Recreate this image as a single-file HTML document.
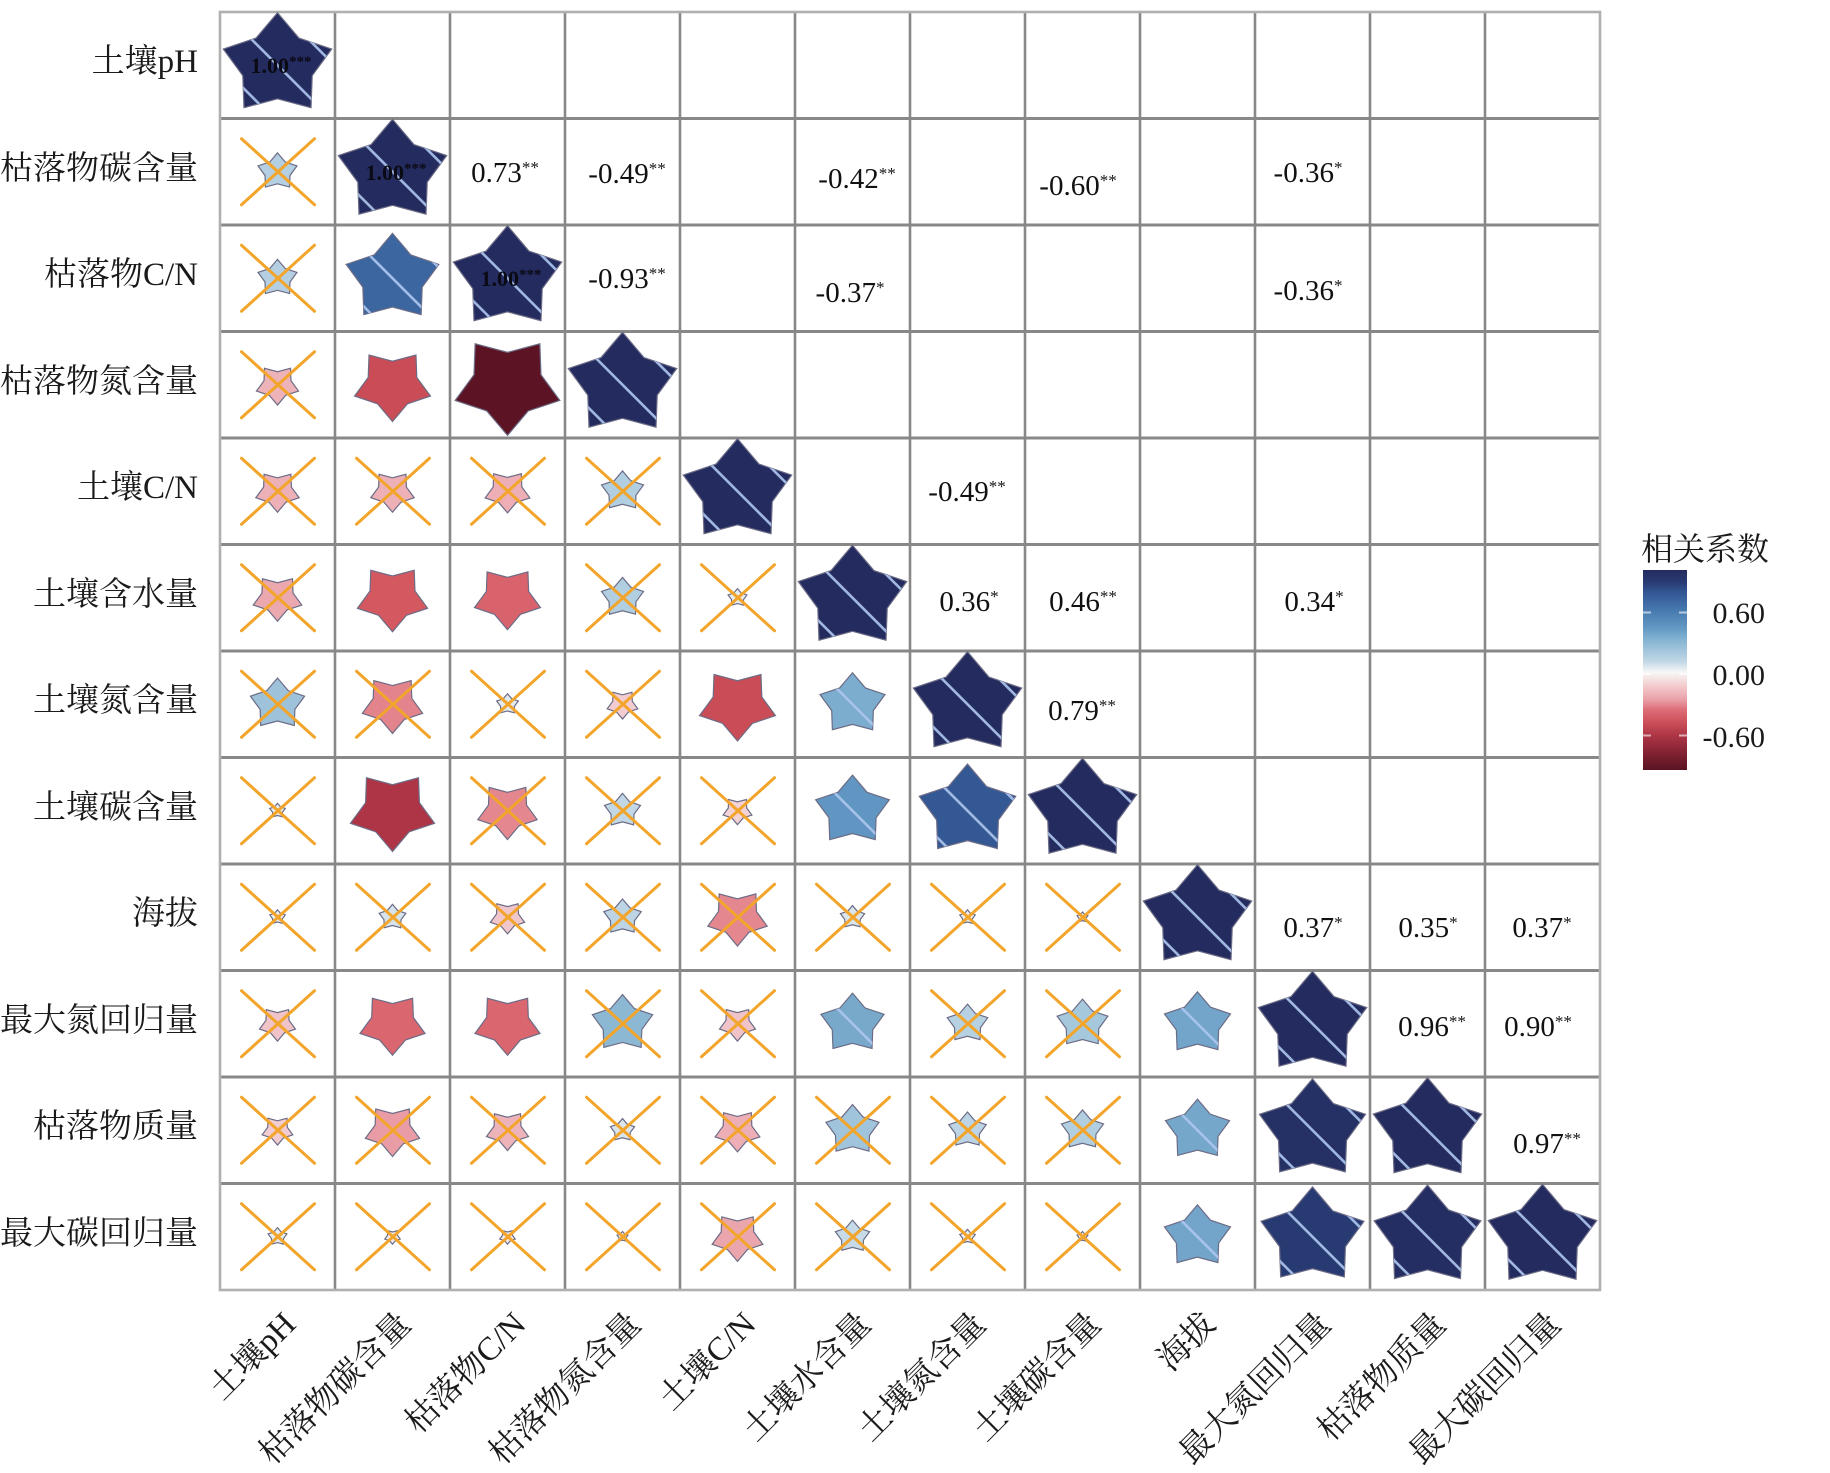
<!DOCTYPE html>
<html><head><meta charset="utf-8"><style>
html,body{margin:0;padding:0;background:#fff;}
svg{display:block;}
</style></head><body>
<svg width="1830" height="1473" viewBox="0 0 1830 1473" xmlns="http://www.w3.org/2000/svg" xmlns:xlink="http://www.w3.org/1999/xlink" font-family="'Liberation Serif','Noto Serif CJK SC',serif">
<defs>
<path id="st" d="M0,-1 L0.376,-0.518 L0.951,-0.309 L0.609,0.198 L0.588,0.809 L0,0.64 L-0.588,0.809 L-0.609,0.198 L-0.951,-0.309 L-0.376,-0.518 Z" stroke="#6c6c86" stroke-width="1.2" vector-effect="non-scaling-stroke"/>
<g id="xx" stroke="#f2a52a" stroke-width="3" stroke-linecap="round"><line x1="-36" y1="-33" x2="37" y2="33"/><line x1="37" y1="-33" x2="-36" y2="33"/></g>
<g id="sp" stroke="#aec6ee" stroke-width="2.6" stroke-opacity="0.9"><line x1="-60" y1="-60" x2="60" y2="60"/><line x1="-31.5" y1="-88.5" x2="88.5" y2="31.5"/><line x1="-88.5" y1="-31.5" x2="31.5" y2="88.5"/></g>
<clipPath id="d1"><use href="#st" transform="translate(277.5,65.25) scale(57,52.5)"/></clipPath>
<clipPath id="d2"><use href="#st" transform="translate(392.5,171.75) scale(57,52.5)"/></clipPath>
<clipPath id="d3"><use href="#st" transform="translate(507.5,278.25) scale(57,52.5)"/></clipPath>
<clipPath id="d4"><use href="#st" transform="translate(622.5,384.75) scale(57,52.5)"/></clipPath>
<clipPath id="d5"><use href="#st" transform="translate(737.5,491.25) scale(57,52.5)"/></clipPath>
<clipPath id="d6"><use href="#st" transform="translate(852.5,597.75) scale(57,52.5)"/></clipPath>
<clipPath id="d7"><use href="#st" transform="translate(967.5,704.25) scale(57,52.5)"/></clipPath>
<clipPath id="d8"><use href="#st" transform="translate(1082.5,810.75) scale(57,52.5)"/></clipPath>
<clipPath id="d9"><use href="#st" transform="translate(1197.5,917.25) scale(57,52.5)"/></clipPath>
<clipPath id="d10"><use href="#st" transform="translate(1312.5,1023.75) scale(57,52.5)"/></clipPath>
<clipPath id="d11"><use href="#st" transform="translate(1427.5,1130.25) scale(57,52.5)"/></clipPath>
<clipPath id="d12"><use href="#st" transform="translate(1542.5,1236.75) scale(57,52.5)"/></clipPath>
<clipPath id="p1"><use href="#st" transform="translate(392.5,278.25) scale(48.7,44.9)"/></clipPath>
<clipPath id="p2"><use href="#st" transform="translate(852.5,704.25) scale(34.2,31.5)"/></clipPath>
<clipPath id="p3"><use href="#st" transform="translate(852.5,810.75) scale(38.7,35.6)"/></clipPath>
<clipPath id="p4"><use href="#st" transform="translate(967.5,810.75) scale(50.7,46.7)"/></clipPath>
<clipPath id="p5"><use href="#st" transform="translate(852.5,1023.75) scale(33.2,30.6)"/></clipPath>
<clipPath id="p6"><use href="#st" transform="translate(1197.5,1023.75) scale(34.7,31.9)"/></clipPath>
<clipPath id="p7"><use href="#st" transform="translate(1197.5,1130.25) scale(33.7,31.1)"/></clipPath>
<clipPath id="p8"><use href="#st" transform="translate(1312.5,1130.25) scale(55.8,51.4)"/></clipPath>
<clipPath id="p9"><use href="#st" transform="translate(1197.5,1236.75) scale(34.7,31.9)"/></clipPath>
<clipPath id="p10"><use href="#st" transform="translate(1312.5,1236.75) scale(54.1,49.8)"/></clipPath>
<clipPath id="p11"><use href="#st" transform="translate(1427.5,1236.75) scale(56.1,51.7)"/></clipPath>
<linearGradient id="cb" x1="0" y1="0" x2="0" y2="1">
<stop offset="0" stop-color="#242b5f"/>
<stop offset="0.059" stop-color="#283a72"/>
<stop offset="0.11" stop-color="#325592"/>
<stop offset="0.161" stop-color="#3d6aa4"/>
<stop offset="0.2125" stop-color="#4a7db2"/>
<stop offset="0.29" stop-color="#6298c2"/>
<stop offset="0.34" stop-color="#7fb0d0"/>
<stop offset="0.392" stop-color="#9dc2da"/>
<stop offset="0.4585" stop-color="#c2d8e6"/>
<stop offset="0.51" stop-color="#f7f7f7"/>
<stop offset="0.53" stop-color="#f6ecec"/>
<stop offset="0.5815" stop-color="#f3c9cc"/>
<stop offset="0.648" stop-color="#eaa0a8"/>
<stop offset="0.699" stop-color="#dc6d77"/>
<stop offset="0.75" stop-color="#d0545e"/>
<stop offset="0.8275" stop-color="#ad3545"/>
<stop offset="0.93" stop-color="#7a1f2f"/>
<stop offset="1" stop-color="#5a1424"/>
</linearGradient>
</defs>

<rect x="0" y="0" width="1830" height="1473" fill="#fff"/>

<!-- grid -->
<g stroke="#888888" stroke-width="2.6">
<line x1="335" y1="12" x2="335" y2="1290"/><line x1="450" y1="12" x2="450" y2="1290"/><line x1="565" y1="12" x2="565" y2="1290"/><line x1="680" y1="12" x2="680" y2="1290"/><line x1="795" y1="12" x2="795" y2="1290"/><line x1="910" y1="12" x2="910" y2="1290"/><line x1="1025" y1="12" x2="1025" y2="1290"/><line x1="1140" y1="12" x2="1140" y2="1290"/><line x1="1255" y1="12" x2="1255" y2="1290"/><line x1="1370" y1="12" x2="1370" y2="1290"/><line x1="1485" y1="12" x2="1485" y2="1290"/>
</g>
<g stroke="#888888" stroke-width="3">
<line x1="220" y1="118.5" x2="1600" y2="118.5"/><line x1="220" y1="225" x2="1600" y2="225"/><line x1="220" y1="331.5" x2="1600" y2="331.5"/><line x1="220" y1="438" x2="1600" y2="438"/><line x1="220" y1="544.5" x2="1600" y2="544.5"/><line x1="220" y1="651" x2="1600" y2="651"/><line x1="220" y1="757.5" x2="1600" y2="757.5"/><line x1="220" y1="864" x2="1600" y2="864"/><line x1="220" y1="970.5" x2="1600" y2="970.5"/><line x1="220" y1="1077" x2="1600" y2="1077"/><line x1="220" y1="1183.5" x2="1600" y2="1183.5"/>
</g>
<rect x="220" y="12" width="1380" height="1278" fill="none" stroke="#b0b0b0" stroke-width="2.6"/>

<!-- diagonal stars -->
<g fill="#242b5f">
<use href="#st" transform="translate(277.5,65.25) scale(57,52.5)"/>
<use href="#st" transform="translate(392.5,171.75) scale(57,52.5)"/>
<use href="#st" transform="translate(507.5,278.25) scale(57,52.5)"/>
<use href="#st" transform="translate(622.5,384.75) scale(57,52.5)"/>
<use href="#st" transform="translate(737.5,491.25) scale(57,52.5)"/>
<use href="#st" transform="translate(852.5,597.75) scale(57,52.5)"/>
<use href="#st" transform="translate(967.5,704.25) scale(57,52.5)"/>
<use href="#st" transform="translate(1082.5,810.75) scale(57,52.5)"/>
<use href="#st" transform="translate(1197.5,917.25) scale(57,52.5)"/>
<use href="#st" transform="translate(1312.5,1023.75) scale(57,52.5)"/>
<use href="#st" transform="translate(1427.5,1130.25) scale(57,52.5)"/>
<use href="#st" transform="translate(1542.5,1236.75) scale(57,52.5)"/>
</g>

<!-- significant stars -->
<use href="#st" transform="translate(392.5,278.25) scale(48.7,44.9)" fill="#3b66a0"/>
<use href="#st" transform="translate(392.5,384.75) scale(39.9,-36.75)" fill="#c94c57"/>
<use href="#st" transform="translate(507.5,384.75) scale(55,-50.6)" fill="#5c1424"/>
<use href="#st" transform="translate(392.5,597.75) scale(36.9,-34)" fill="#d4585f"/>
<use href="#st" transform="translate(507.5,597.75) scale(34.7,-31.9)" fill="#d8636c"/>
<use href="#st" transform="translate(737.5,704.25) scale(39.9,-36.75)" fill="#c94c57"/>
<use href="#st" transform="translate(852.5,704.25) scale(34.2,31.5)" fill="#7cadce"/>
<use href="#st" transform="translate(392.5,810.75) scale(44.2,-40.7)" fill="#ad3545"/>
<use href="#st" transform="translate(852.5,810.75) scale(38.7,35.6)" fill="#6096c1"/>
<use href="#st" transform="translate(967.5,810.75) scale(50.7,46.7)" fill="#335893"/>
<use href="#st" transform="translate(392.5,1023.75) scale(34.2,-31.5)" fill="#da6670"/>
<use href="#st" transform="translate(507.5,1023.75) scale(34.2,-31.5)" fill="#da6670"/>
<use href="#st" transform="translate(852.5,1023.75) scale(33.2,30.6)" fill="#78a9cb"/>
<use href="#st" transform="translate(1197.5,1023.75) scale(34.7,31.9)" fill="#72a5c9"/>
<use href="#st" transform="translate(1197.5,1130.25) scale(33.7,31.1)" fill="#74a7ca"/>
<use href="#st" transform="translate(1312.5,1130.25) scale(55.8,51.4)" fill="#253064"/>
<use href="#st" transform="translate(1197.5,1236.75) scale(34.7,31.9)" fill="#72a5c9"/>
<use href="#st" transform="translate(1312.5,1236.75) scale(54.1,49.8)" fill="#283a72"/>
<use href="#st" transform="translate(1427.5,1236.75) scale(56.1,51.7)" fill="#252e62"/>

<!-- stripes -->
<g clip-path="url(#d1)"><use href="#sp" x="277.5" y="65.25"/></g>
<g clip-path="url(#d2)"><use href="#sp" x="392.5" y="171.75"/></g>
<g clip-path="url(#d3)"><use href="#sp" x="507.5" y="278.25"/></g>
<g clip-path="url(#d4)"><use href="#sp" x="622.5" y="384.75"/></g>
<g clip-path="url(#d5)"><use href="#sp" x="737.5" y="491.25"/></g>
<g clip-path="url(#d6)"><use href="#sp" x="852.5" y="597.75"/></g>
<g clip-path="url(#d7)"><use href="#sp" x="967.5" y="704.25"/></g>
<g clip-path="url(#d8)"><use href="#sp" x="1082.5" y="810.75"/></g>
<g clip-path="url(#d9)"><use href="#sp" x="1197.5" y="917.25"/></g>
<g clip-path="url(#d10)"><use href="#sp" x="1312.5" y="1023.75"/></g>
<g clip-path="url(#d11)"><use href="#sp" x="1427.5" y="1130.25"/></g>
<g clip-path="url(#d12)"><use href="#sp" x="1542.5" y="1236.75"/></g>
<g clip-path="url(#p1)"><use href="#sp" x="392.5" y="278.25"/></g>
<g clip-path="url(#p2)"><use href="#sp" x="852.5" y="704.25"/></g>
<g clip-path="url(#p3)"><use href="#sp" x="852.5" y="810.75"/></g>
<g clip-path="url(#p4)"><use href="#sp" x="967.5" y="810.75"/></g>
<g clip-path="url(#p5)"><use href="#sp" x="852.5" y="1023.75"/></g>
<g clip-path="url(#p6)"><use href="#sp" x="1197.5" y="1023.75"/></g>
<g clip-path="url(#p7)"><use href="#sp" x="1197.5" y="1130.25"/></g>
<g clip-path="url(#p8)"><use href="#sp" x="1312.5" y="1130.25"/></g>
<g clip-path="url(#p9)"><use href="#sp" x="1197.5" y="1236.75"/></g>
<g clip-path="url(#p10)"><use href="#sp" x="1312.5" y="1236.75"/></g>
<g clip-path="url(#p11)"><use href="#sp" x="1427.5" y="1236.75"/></g>

<!-- non-significant stars -->
<use href="#st" transform="translate(277.5,171.75) scale(20.5,18.9)" fill="#b4cfe1"/>
<use href="#st" transform="translate(277.5,278.25) scale(20.5,18.9)" fill="#b4cfe1"/>
<use href="#st" transform="translate(277.5,384.75) scale(22.1,-20.3)" fill="#eeb3b9"/>
<use href="#st" transform="translate(277.5,491.25) scale(22.8,-21)" fill="#edb0b7"/>
<use href="#st" transform="translate(392.5,491.25) scale(22.8,-21)" fill="#edb0b7"/>
<use href="#st" transform="translate(507.5,491.25) scale(23.5,-21.6)" fill="#edaeb5"/>
<use href="#st" transform="translate(622.5,491.25) scale(22.1,20.3)" fill="#b2cee1"/>
<use href="#st" transform="translate(277.5,597.75) scale(25.5,-23.5)" fill="#eba8af"/>
<use href="#st" transform="translate(622.5,597.75) scale(22.1,20.3)" fill="#b2cee1"/>
<use href="#st" transform="translate(737.5,597.75) scale(9.9,9.1)" fill="#e6edf0"/>
<use href="#st" transform="translate(277.5,704.25) scale(28.5,26.25)" fill="#9dc2da"/>
<use href="#st" transform="translate(392.5,704.25) scale(31.7,-29.2)" fill="#e3838c"/>
<use href="#st" transform="translate(507.5,704.25) scale(11.4,10.5)" fill="#e2eaee"/>
<use href="#st" transform="translate(622.5,704.25) scale(16.1,-14.8)" fill="#f2ccd0"/>
<use href="#st" transform="translate(277.5,810.75) scale(8.1,7.4)" fill="#eceff1"/>
<use href="#st" transform="translate(507.5,810.75) scale(31.2,-28.8)" fill="#e4878f"/>
<use href="#st" transform="translate(622.5,810.75) scale(18.9,17.4)" fill="#c2d8e6"/>
<use href="#st" transform="translate(737.5,810.75) scale(15.1,-13.9)" fill="#f3d3d6"/>
<use href="#st" transform="translate(277.5,917.25) scale(8.1,7.4)" fill="#eceff1"/>
<use href="#st" transform="translate(392.5,917.25) scale(14,12.9)" fill="#d6e3eb"/>
<use href="#st" transform="translate(507.5,917.25) scale(18,-16.6)" fill="#f1c6ca"/>
<use href="#st" transform="translate(622.5,917.25) scale(19.7,18.2)" fill="#bcd4e4"/>
<use href="#st" transform="translate(737.5,917.25) scale(31.2,-28.8)" fill="#e4878f"/>
<use href="#st" transform="translate(852.5,917.25) scale(12.7,11.7)" fill="#dbe6ec"/>
<use href="#st" transform="translate(967.5,917.25) scale(8.1,7.4)" fill="#eceff1"/>
<use href="#st" transform="translate(1082.5,917.25) scale(5.7,5.25)" fill="#f0f1f2"/>
<use href="#st" transform="translate(277.5,1023.75) scale(18.9,-17.4)" fill="#f0c3c8"/>
<use href="#st" transform="translate(622.5,1023.75) scale(31.7,29.2)" fill="#8db8d4"/>
<use href="#st" transform="translate(737.5,1023.75) scale(18.9,-17.4)" fill="#f0c3c8"/>
<use href="#st" transform="translate(967.5,1023.75) scale(21.3,19.6)" fill="#b6d1e2"/>
<use href="#st" transform="translate(1082.5,1023.75) scale(26.7,24.6)" fill="#a6c8dd"/>
<use href="#st" transform="translate(277.5,1130.25) scale(16.1,-14.8)" fill="#f2ccd0"/>
<use href="#st" transform="translate(392.5,1130.25) scale(28.5,-26.25)" fill="#e99ca5"/>
<use href="#st" transform="translate(507.5,1130.25) scale(22.1,-20.3)" fill="#eeb3b9"/>
<use href="#st" transform="translate(622.5,1130.25) scale(12.7,11.7)" fill="#dbe6ec"/>
<use href="#st" transform="translate(737.5,1130.25) scale(23.5,-21.6)" fill="#edaeb5"/>
<use href="#st" transform="translate(852.5,1130.25) scale(27.9,25.7)" fill="#a0c4db"/>
<use href="#st" transform="translate(967.5,1130.25) scale(19.7,18.2)" fill="#bcd4e4"/>
<use href="#st" transform="translate(1082.5,1130.25) scale(22.1,20.3)" fill="#b2cee1"/>
<use href="#st" transform="translate(277.5,1236.75) scale(9.9,9.1)" fill="#e6edf0"/>
<use href="#st" transform="translate(392.5,1236.75) scale(8.1,-7.4)" fill="#f5eaeb"/>
<use href="#st" transform="translate(507.5,1236.75) scale(8.1,-7.4)" fill="#f5eaeb"/>
<use href="#st" transform="translate(622.5,1236.75) scale(5.7,5.25)" fill="#f0f1f2"/>
<use href="#st" transform="translate(737.5,1236.75) scale(26.7,-24.6)" fill="#eba6ad"/>
<use href="#st" transform="translate(852.5,1236.75) scale(18,16.6)" fill="#c6dae7"/>
<use href="#st" transform="translate(967.5,1236.75) scale(8.1,7.4)" fill="#eceff1"/>
<use href="#st" transform="translate(1082.5,1236.75) scale(5.7,5.25)" fill="#f0f1f2"/>

<!-- crosses -->
<use href="#xx" x="277.5" y="171.75"/>
<use href="#xx" x="277.5" y="278.25"/>
<use href="#xx" x="277.5" y="384.75"/>
<use href="#xx" x="277.5" y="491.25"/><use href="#xx" x="392.5" y="491.25"/><use href="#xx" x="507.5" y="491.25"/><use href="#xx" x="622.5" y="491.25"/>
<use href="#xx" x="277.5" y="597.75"/><use href="#xx" x="622.5" y="597.75"/><use href="#xx" x="737.5" y="597.75"/>
<use href="#xx" x="277.5" y="704.25"/><use href="#xx" x="392.5" y="704.25"/><use href="#xx" x="507.5" y="704.25"/><use href="#xx" x="622.5" y="704.25"/>
<use href="#xx" x="277.5" y="810.75"/><use href="#xx" x="507.5" y="810.75"/><use href="#xx" x="622.5" y="810.75"/><use href="#xx" x="737.5" y="810.75"/>
<use href="#xx" x="277.5" y="917.25"/><use href="#xx" x="392.5" y="917.25"/><use href="#xx" x="507.5" y="917.25"/><use href="#xx" x="622.5" y="917.25"/><use href="#xx" x="737.5" y="917.25"/><use href="#xx" x="852.5" y="917.25"/><use href="#xx" x="967.5" y="917.25"/><use href="#xx" x="1082.5" y="917.25"/>
<use href="#xx" x="277.5" y="1023.75"/><use href="#xx" x="622.5" y="1023.75"/><use href="#xx" x="737.5" y="1023.75"/><use href="#xx" x="967.5" y="1023.75"/><use href="#xx" x="1082.5" y="1023.75"/>
<use href="#xx" x="277.5" y="1130.25"/><use href="#xx" x="392.5" y="1130.25"/><use href="#xx" x="507.5" y="1130.25"/><use href="#xx" x="622.5" y="1130.25"/><use href="#xx" x="737.5" y="1130.25"/><use href="#xx" x="852.5" y="1130.25"/><use href="#xx" x="967.5" y="1130.25"/><use href="#xx" x="1082.5" y="1130.25"/>
<use href="#xx" x="277.5" y="1236.75"/><use href="#xx" x="392.5" y="1236.75"/><use href="#xx" x="507.5" y="1236.75"/><use href="#xx" x="622.5" y="1236.75"/><use href="#xx" x="737.5" y="1236.75"/><use href="#xx" x="852.5" y="1236.75"/><use href="#xx" x="967.5" y="1236.75"/><use href="#xx" x="1082.5" y="1236.75"/>

<!-- diagonal labels (visible on first three) -->
<g font-size="22" font-weight="bold" fill="#0a0a14" text-anchor="middle">
<text x="281" y="73">1.00<tspan font-size="15" dy="-7">***</tspan></text>
<text x="396" y="180">1.00<tspan font-size="15" dy="-7">***</tspan></text>
<text x="511" y="286">1.00<tspan font-size="15" dy="-7">***</tspan></text>
</g>

<!-- upper triangle coefficients -->
<g font-size="29" fill="#111" text-anchor="middle">
<text x="505" y="182">0.73<tspan font-size="17" dy="-9">**</tspan></text>
<text x="627" y="183">-0.49<tspan font-size="17" dy="-9">**</tspan></text>
<text x="857" y="188">-0.42<tspan font-size="17" dy="-9">**</tspan></text>
<text x="1078" y="195">-0.60<tspan font-size="17" dy="-9">**</tspan></text>
<text x="1308" y="182">-0.36<tspan font-size="17" dy="-9">*</tspan></text>
<text x="627" y="288">-0.93<tspan font-size="17" dy="-9">**</tspan></text>
<text x="850" y="302">-0.37<tspan font-size="17" dy="-9">*</tspan></text>
<text x="1308" y="300">-0.36<tspan font-size="17" dy="-9">*</tspan></text>
<text x="967" y="501">-0.49<tspan font-size="17" dy="-9">**</tspan></text>
<text x="969" y="611">0.36<tspan font-size="17" dy="-9">*</tspan></text>
<text x="1083" y="611">0.46<tspan font-size="17" dy="-9">**</tspan></text>
<text x="1314" y="611">0.34<tspan font-size="17" dy="-9">*</tspan></text>
<text x="1082" y="720">0.79<tspan font-size="17" dy="-9">**</tspan></text>
<text x="1313" y="937">0.37<tspan font-size="17" dy="-9">*</tspan></text>
<text x="1428" y="937">0.35<tspan font-size="17" dy="-9">*</tspan></text>
<text x="1542" y="937">0.37<tspan font-size="17" dy="-9">*</tspan></text>
<text x="1432" y="1036">0.96<tspan font-size="17" dy="-9">**</tspan></text>
<text x="1538" y="1036">0.90<tspan font-size="17" dy="-9">**</tspan></text>
<text x="1547" y="1153">0.97<tspan font-size="17" dy="-9">**</tspan></text>
</g>

<!-- y axis labels -->
<g font-size="33" fill="#1a1a1a" text-anchor="end">
<text x="198" y="72">土壤pH</text>
<text x="198" y="179">枯落物碳含量</text>
<text x="198" y="285">枯落物C/N</text>
<text x="198" y="392">枯落物氮含量</text>
<text x="198" y="498">土壤C/N</text>
<text x="198" y="605">土壤含水量</text>
<text x="198" y="711">土壤氮含量</text>
<text x="198" y="818">土壤碳含量</text>
<text x="198" y="924">海拔</text>
<text x="198" y="1031">最大氮回归量</text>
<text x="198" y="1137">枯落物质量</text>
<text x="198" y="1244">最大碳回归量</text>
</g>

<!-- x axis labels -->
<g font-size="33" fill="#1a1a1a" text-anchor="end">
<text transform="translate(297.5,1326) rotate(-45)">土壤pH</text>
<text transform="translate(412.5,1326) rotate(-45)">枯落物碳含量</text>
<text transform="translate(527.5,1326) rotate(-45)">枯落物C/N</text>
<text transform="translate(642.5,1326) rotate(-45)">枯落物氮含量</text>
<text transform="translate(757.5,1326) rotate(-45)">土壤C/N</text>
<text transform="translate(872.5,1326) rotate(-45)">土壤水含量</text>
<text transform="translate(987.5,1326) rotate(-45)">土壤氮含量</text>
<text transform="translate(1102.5,1326) rotate(-45)">土壤碳含量</text>
<text transform="translate(1217.5,1326) rotate(-45)">海拔</text>
<text transform="translate(1332.5,1326) rotate(-45)">最大氮回归量</text>
<text transform="translate(1447.5,1326) rotate(-45)">枯落物质量</text>
<text transform="translate(1562.5,1326) rotate(-45)">最大碳回归量</text>
</g>

<!-- legend -->
<text x="1641" y="560" font-size="32" fill="#1a1a1a">相关系数</text>
<rect x="1643" y="570" width="44" height="200" fill="url(#cb)"/>
<g stroke="#ffffff" stroke-opacity="0.6" stroke-width="2">
<line x1="1643" y1="612.5" x2="1651" y2="612.5"/><line x1="1679" y1="612.5" x2="1687" y2="612.5"/>
<line x1="1643" y1="674" x2="1651" y2="674"/><line x1="1679" y1="674" x2="1687" y2="674"/>
<line x1="1643" y1="735.5" x2="1651" y2="735.5"/><line x1="1679" y1="735.5" x2="1687" y2="735.5"/>
</g>
<g font-size="30" fill="#1a1a1a" text-anchor="end">
<text x="1765" y="623">0.60</text>
<text x="1765" y="685">0.00</text>
<text x="1765" y="747">-0.60</text>
</g>
</svg>
</body></html>
